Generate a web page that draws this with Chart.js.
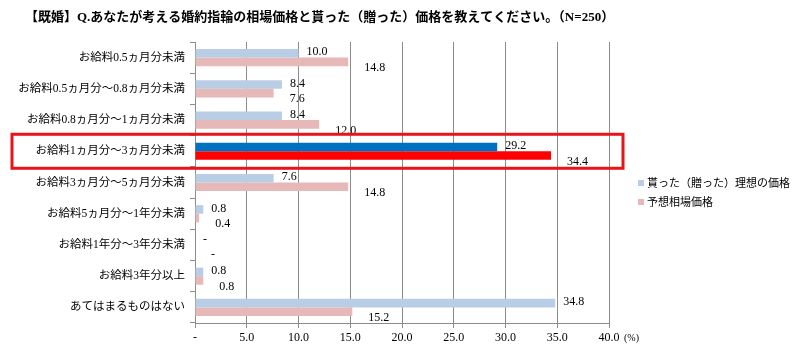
<!DOCTYPE html>
<html lang="ja">
  <head>
    <meta charset="utf-8" />
    <title>婚約指輪の相場価格</title>
    <style>
      body { margin: 0; background: #fff; }
    </style>
  </head>
  <body>
    <canvas id="ringChart" width="796" height="360"></canvas>
    <script src="https://cdn.jsdelivr.net/npm/chart.js@4.4.1/dist/chart.umd.min.js"></script>
    <script>
      const titleText = '【既婚】Q.あなたが考える婚約指輪の相場価格と貰った（贈った）価格を教えてください。（N=250）';
      const categories = [
        'お給料0.5ヵ月分未満',
        'お給料0.5ヵ月分～0.8ヵ月分未満',
        'お給料0.8ヵ月分～1ヵ月分未満',
        'お給料1ヵ月分～3ヵ月分未満',
        'お給料3ヵ月分～5ヵ月分未満',
        'お給料5ヵ月分～1年分未満',
        'お給料1年分～3年分未満',
        'お給料3年分以上',
        'あてはまるものはない',
      ];
      const seriesNames = ['貰った（贈った）理想の価格', '予想相場価格'];
      const idealPrice = [10.0, 8.4, 8.4, 29.2, 7.6, 0.8, 0, 0.8, 34.8];
      const marketPrice = [14.8, 7.6, 12.0, 34.4, 14.8, 0.4, 0, 0.8, 15.2];
      const xTicks = [0, 5, 10, 15, 20, 25, 30, 35, 40];
      const highlightIndex = 3;

      const font = "'Liberation Serif', 'Noto Sans CJK JP'";
      Chart.defaults.font.family = font;
      Chart.defaults.color = '#000';

      const baseColors = ['#b9cde5', '#e6b9b8'];
      const strongColors = ['#0070c0', '#ff0000'];
      const colorsFor = (s) => categories.map((c, i) => (i === highlightIndex ? strongColors[s] : baseColors[s]));

      // title, value labels, red highlight frame, legend and unit text
      const extras = {
        id: 'extras',
        afterDatasetsDraw(chart) {
          const ctx = chart.ctx;
          ctx.save();
          ctx.textBaseline = 'middle';
          ctx.textAlign = 'left';
          ctx.fillStyle = '#000';

          ctx.font = 'bold 13px ' + font;
          ctx.fillText(titleText, 25, 18);

          ctx.font = '12px ' + font;
          chart.data.datasets.forEach((ds, s) => {
            chart.getDatasetMeta(s).data.forEach((bar, i) => {
              const v = ds.data[i];
              const txt = v === 0 ? '-' : v.toFixed(1);
              const dx = s === 0 ? 8 : 16;
              const dy = s === 0 ? -1 : 6;
              ctx.fillText(txt, bar.x + dx, bar.y + dy);
            });
          });

          // highlight frame
          const y = chart.scales.y;
          const cy = y.getPixelForValue(highlightIndex);
          ctx.strokeStyle = '#e8141a';
          ctx.lineWidth = 3;
          ctx.strokeRect(12, cy - 17, chart.chartArea.right + 2, 34);

          // legend
          ctx.font = "11px 'Noto Sans CJK JP'";
          seriesNames.forEach((name, s) => {
            const ly = 183 + s * 19;
            ctx.fillStyle = baseColors[s];
            ctx.fillRect(638, ly - 3, 6, 6);
            ctx.fillStyle = '#000';
            ctx.fillText(name, 647, ly);
          });

          // unit
          ctx.font = '10px ' + font;
          ctx.fillText('(%)', chart.chartArea.right + 15, 338);
          ctx.restore();
        },
      };

      new Chart(document.getElementById('ringChart'), {
        type: 'bar',
        data: {
          labels: categories,
          datasets: [
            { label: seriesNames[0], data: idealPrice, backgroundColor: colorsFor(0) },
            { label: seriesNames[1], data: marketPrice, backgroundColor: colorsFor(1) },
          ],
        },
        options: {
          indexAxis: 'y',
          responsive: false,
          animation: false,
          categoryPercentage: 0.55,
          barPercentage: 1.0,
          layout: { padding: { left: 5, right: 187, top: 42, bottom: 0 } },
          plugins: {
            legend: { display: false },
            tooltip: { enabled: false },
            title: { display: false },
          },
          scales: {
            x: {
              min: 0,
              max: 40,
              afterBuildTicks: (scale) => {
                scale.ticks = xTicks.map((v) => ({ value: v }));
              },
              afterFit: (scale) => {
                scale.height = 37;
              },
              grid: { color: '#8c8c8c', tickLength: 5, drawTicks: true },
              border: { color: '#8c8c8c' },
              ticks: {
                padding: 3,
                font: { size: 12 },
                callback: (v) => (v === 0 ? '-' : v.toFixed(1)),
              },
            },
            y: {
              afterFit: (scale) => {
                scale.width = 190;
              },
              grid: { drawOnChartArea: false, color: '#8c8c8c', tickLength: 5 },
              border: { color: '#8c8c8c' },
              ticks: { padding: 5, font: { size: 11.5 } },
            },
          },
        },
        plugins: [extras],
      });
    </script>
  </body>
</html>
